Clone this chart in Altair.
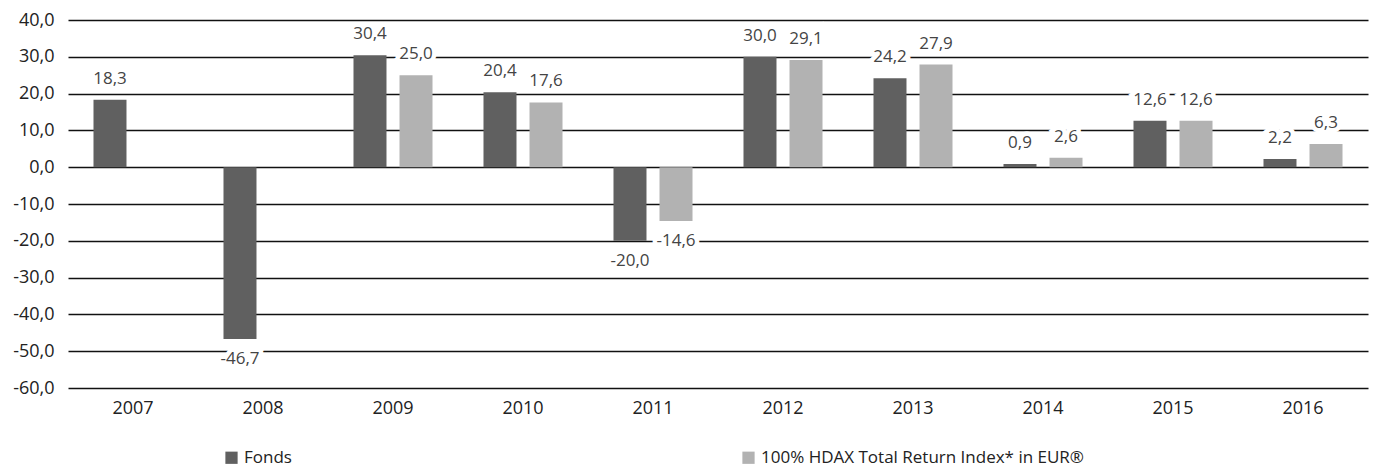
import altair as alt
import pandas as pd

years = ["2007", "2008", "2009", "2010", "2011", "2012", "2013", "2014", "2015", "2016"]
fonds = [18.3, -46.7, 30.4, 20.4, -20.0, 30.0, 24.2, 0.9, 12.6, 2.2]
index = [None, None, 25.0, 17.6, -14.6, 29.1, 27.9, 2.6, 12.6, 6.3]
series = ["Fonds", "100% HDAX Total Return Index* in EUR®"]
colors = ["#606060", "#b2b2b2"]
yticks = [-60, -50, -40, -30, -20, -10, 0, 10, 20, 30, 40]

rows = []
for y, f, i in zip(years, fonds, index):
    rows.append({"year": y, "series": series[0], "value": f})
    if i is not None:
        rows.append({"year": y, "series": series[1], "value": i})
df = pd.DataFrame(rows)

FONT = "Open Sans"
FMT = "replace(replace(format({v}, '.1f'), '.', ','), '\u2212', '-')"

x = alt.X("year:N", sort=years, title=None,
          scale=alt.Scale(paddingInner=0.292, paddingOuter=0.146),
          axis=alt.Axis(labelAngle=0, ticks=False, domain=False, labelPadding=11,
                        labelFontSize=18, labelColor="#222", labelFont=FONT))
xo = alt.XOffset("series:N", sort=series,
                 scale=alt.Scale(domain=series, paddingInner=0.283, paddingOuter=0.1415))
yenc = alt.Y("value:Q", title=None,
             scale=alt.Scale(domain=[-60, 40], nice=False),
             axis=alt.Axis(values=yticks, ticks=False, domain=False, labelOverlap=False,
                           labelExpr=FMT.format(v="datum.value"),
                           labelPadding=14, labelFontSize=18, labelColor="#222",
                           labelFont=FONT, gridColor="#111", gridWidth=1.5, gridOpacity=1))

base = alt.Chart(df).transform_calculate(label=FMT.format(v="datum.value"))

bars = base.mark_bar().encode(
    x=x, xOffset=xo, y=yenc,
    color=alt.Color("series:N", sort=series,
                    scale=alt.Scale(domain=series, range=colors),
                    legend=alt.Legend(title=None, orient="none", direction="horizontal",
                                      legendX=155, legendY=429, columnPadding=448,
                                      symbolType="square", symbolSize=150,
                                      symbolStrokeWidth=0, labelFontSize=17,
                                      labelColor="#222", labelFont=FONT, symbolOffset=0,
                                      labelOffset=4, labelLimit=500)),
)

def labels(cond, dy, halo):
    kw = dict(dy=dy, baseline="middle", align="center", fontSize=17, font=FONT)
    if halo:
        kw.update(stroke="white", strokeWidth=9, color="white", strokeJoin="miter")
    else:
        kw.update(color="#444")
    return base.transform_filter(cond).mark_text(**kw).encode(
        x=x, xOffset=xo, y=yenc, text="label:N")

pos = "datum.value >= 0"
neg = "datum.value < 0"

chart = alt.layer(
    bars,
    labels(pos, -21, True), labels(neg, 20, True),
    labels(pos, -21, False), labels(neg, 20, False),
).properties(
    width=1300, height=368,
    autosize=alt.AutoSizeParams(type="none"),
    padding={"left": 60, "top": 12, "right": 2, "bottom": 80},
).configure_view(stroke=None).configure_axis(labelFont=FONT)

chart.save("out.html", embed_options={"renderer": "svg", "actions": False})
